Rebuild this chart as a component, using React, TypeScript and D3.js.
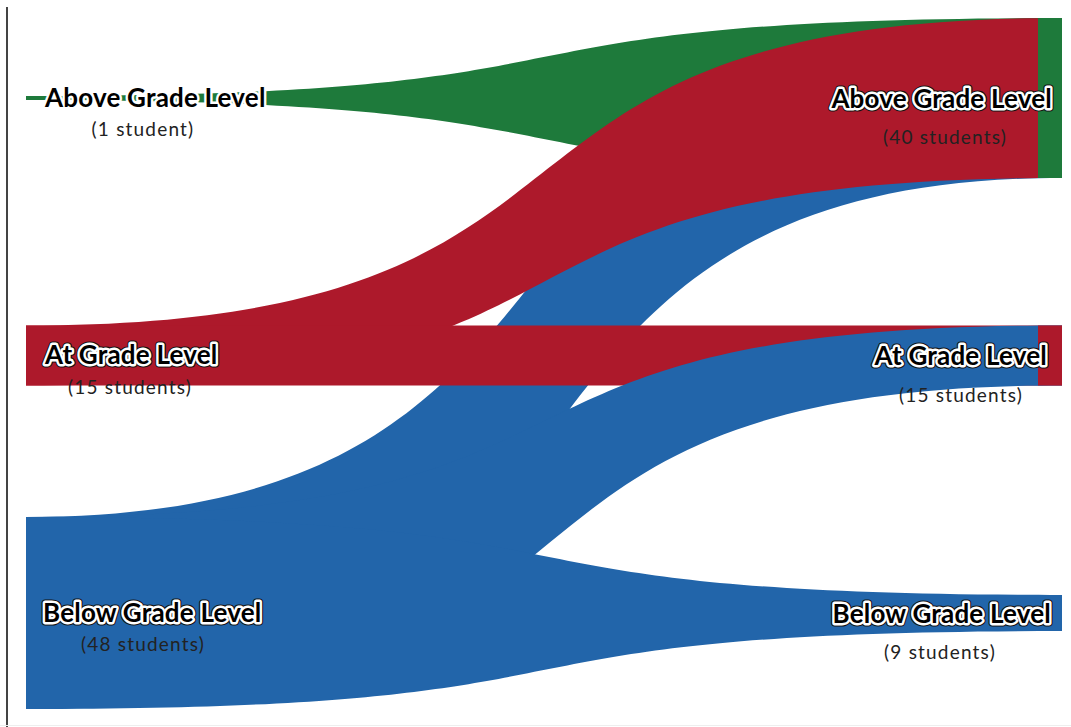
import React from "react";
import * as d3 from "d3";

// ---- data ----
const levels = ["Above Grade Level", "At Grade Level", "Below Grade Level"];
const beforeCounts = [1, 15, 48];
const afterCounts = [40, 15, 9];
// flows: [from level index, to level index]
const flowFrom = [2, 0, 1, 1, 2, 2];
const flowTo = [0, 0, 0, 1, 1, 2];
const levelColors = ["#1E7A3B", "#AD192B", "#2265AA"];

const W = 1071;
const H = 727;

function studentsLabel(n: number) {
  return `(${n} ${n === 1 ? "student" : "students"})`;
}

function ribbon(x0: number, x1: number, s0: number, s1: number, t0: number, t1: number) {
  const k = 0.62;
  const L = x1 - x0;
  const c1 = x0 + k * L;
  const c2 = x1 - k * L;
  const p = d3.path();
  p.moveTo(x0, s0);
  p.bezierCurveTo(c1, s0, c2, t0, x1, t0);
  p.lineTo(x1, t1);
  p.bezierCurveTo(c2, t1, c1, s1, x0, s1);
  p.closePath();
  return p.toString();
}

const FONT = "Lato, 'Open Sans', sans-serif";

const HaloText = ({ x, y, anchor, text, outline }: any) => {
  const common = {
    x,
    y,
    textAnchor: anchor,
    fontFamily: FONT,
    fontWeight: 700,
    fontSize: 26,
    letterSpacing: 0.2,
  } as any;
  return (
    <g>
      {outline && (
        <text {...common} stroke="#111" strokeWidth={7} strokeLinejoin="round" fill="#111">
          {text}
        </text>
      )}
      <text {...common} stroke="#fff" strokeWidth={4.8} strokeLinejoin="round" fill="#fff">
        {text}
      </text>
      <text {...common} fill="#000">
        {text}
      </text>
    </g>
  );
};

export default function App() {
  const x = d3.scalePoint<string>().domain(["before", "after"]).range([26, 1062]);
  const rowY = d3.scalePoint<string>().domain(levels).range([98, 613]);
  const h = d3.scaleLinear().domain([0, 1]).range([0, 4]);
  const barW = 24;

  const x0 = x("before")!;
  const x1 = x("after")!;

  const leftTop = (i: number) => rowY(levels[i])! - h(beforeCounts[i]) / 2;
  const rightTop = (i: number) => rowY(levels[i])! - h(afterCounts[i]) / 2;

  // layout for labels
  const leftMainX = [45, 45, 43];
  const leftSubX = [143, 130, 143];
  const rightMainX = [1052, 1047, 1051];
  const rightSubX = [945, 961, 940];
  const mainDy = [9, 8, 8.5];

  return (
    <svg
      width={W}
      height={H}
      style={{ position: "fixed", left: 0, top: 0, background: "#fff" }}
    >
      <rect x={0} y={0} width={W} height={H} fill="#fff" />
      {flowFrom.map((f, i) => {
        const t = flowTo[i];
        const s0 = leftTop(f);
        const s1 = s0 + h(beforeCounts[f]);
        const t0 = rightTop(t);
        const t1 = t0 + h(afterCounts[t]);
        return <path key={i} d={ribbon(x0, x1, s0, s1, t0, t1)} fill={levelColors[f]} />;
      })}
      {afterCounts.map((c, i) => (
        <rect key={i} x={x1 - barW} y={rightTop(i)} width={barW} height={h(c)} fill={levelColors[i]} />
      ))}
      {/* axis line */}
      <line x1={7} x2={7} y1={7} y2={H} stroke="#444" strokeWidth={2} />
      <line x1={0} x2={W} y1={H - 1.5} y2={H - 1.5} stroke="#eee" strokeWidth={1} />
      {/* labels */}
      {levels.map((lv, i) => (
        <g key={"l" + i}>
          <HaloText x={leftMainX[i]} y={rowY(lv)! + mainDy[i]} anchor="start" text={lv} outline={i !== 0} />
          <text
            x={leftSubX[i]}
            y={rowY(lv)! + 38}
            textAnchor="middle"
            fontFamily={FONT}
            fontSize={19}
            letterSpacing={1.2}
            fill="#222"
          >
            {studentsLabel(beforeCounts[i])}
          </text>
        </g>
      ))}
      {levels.map((lv, i) => (
        <g key={"r" + i}>
          <HaloText x={rightMainX[i]} y={rowY(lv)! + mainDy[i] + 1} anchor="end" text={lv} outline={true} />
          <text
            x={rightSubX[i]}
            y={rowY(lv)! + 46}
            textAnchor="middle"
            fontFamily={FONT}
            fontSize={19}
            letterSpacing={1.2}
            fill="#222"
          >
            {studentsLabel(afterCounts[i])}
          </text>
        </g>
      ))}
    </svg>
  );
}
